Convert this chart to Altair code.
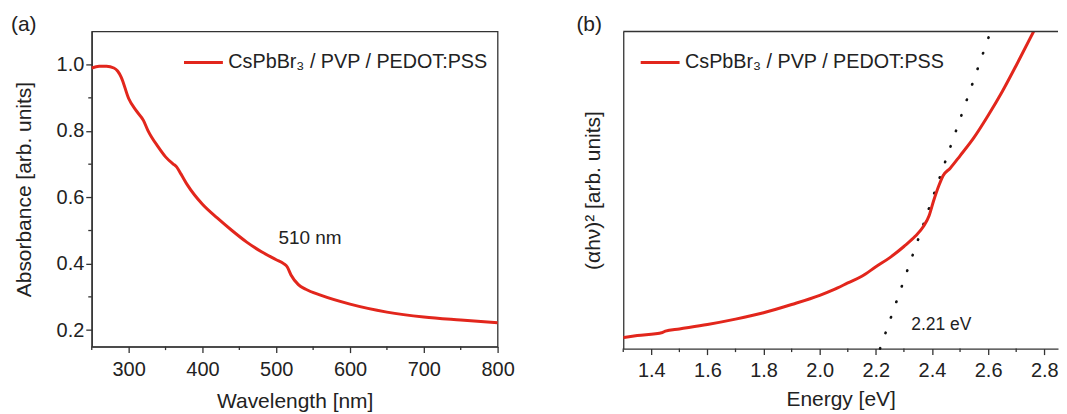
import altair as alt
import pandas as pd

# ---------------- data ----------------
wavelength = [250, 260, 270, 280, 285, 290, 300, 310, 320, 326, 340,
              350, 360, 365, 371, 380, 400, 420, 440, 460, 480, 500, 510, 515, 520,
              530, 540, 560, 600, 650, 700, 750, 800]
absorbance = [0.990, 0.995, 0.995, 0.990, 0.981, 0.962, 0.898,
              0.862, 0.832, 0.802, 0.752, 0.722, 0.701, 0.692, 0.670, 0.636, 0.579,
              0.538, 0.500, 0.465, 0.436, 0.412, 0.400, 0.390, 0.366, 0.337, 0.323,
              0.305, 0.278, 0.254, 0.239, 0.230, 0.222]

energy = [1.30, 1.35, 1.44, 1.45, 1.50, 1.60, 1.70, 1.80, 1.90, 2.00, 2.05, 2.10, 2.15,
          2.20, 2.25, 2.30, 2.34, 2.37, 2.39, 2.405, 2.425, 2.44, 2.465, 2.50, 2.55,
          2.60, 2.65, 2.70, 2.765]
tauc = [0.035, 0.041, 0.051, 0.055, 0.062, 0.076, 0.093, 0.113, 0.139, 0.168, 0.186,
        0.207, 0.228, 0.258, 0.287, 0.322, 0.354, 0.386, 0.420, 0.464, 0.515, 0.546,
        0.569, 0.608, 0.666, 0.735, 0.810, 0.893, 1.005]

fit_energy = [2.215, 2.607]
fit_value = [0.0, 0.995]

wl_major = [300, 400, 500, 600, 700, 800]
wl_minor = [250, 350, 450, 550, 650, 750]
abs_major = [0.2, 0.4, 0.6, 0.8, 1.0]
abs_minor = [0.3, 0.5, 0.7, 0.9]
e_major = [1.4, 1.6, 1.8, 2.0, 2.2, 2.4, 2.6, 2.8]
e_minor = [1.3, 1.5, 1.7, 1.9, 2.1, 2.3, 2.5, 2.7]

series_label = "CsPbBr\u2083 / PVP / PEDOT:PSS"
panel_labels = ["(a)", "(b)"]
ann_a = {"x": [503], "y": [0.477], "t": ["510 nm"]}
ann_b = {"x": [2.326], "y": [0.075], "t": ["2.21 eV"]}

# ---------------- style ----------------
FONT = "Liberation Sans"
RED = "#e2261c"
AX = "#333333"
TXT = "#222222"
WA, HA = 407, 316
WB, HB = 436, 318
E_MAX = 2.849
MAJOR, MINOR = 6, 3.5

df_a = pd.DataFrame({"wl": wavelength, "a": absorbance, "s": series_label})
df_b = pd.DataFrame({"e": energy, "v": tauc, "s": series_label})
df_fit = pd.DataFrame({"e": fit_energy, "v": fit_value})

legend_common = dict(
    title=None, orient="none", symbolType="stroke", symbolSize=1521,
    symbolStrokeWidth=3, labelFontSize=19.8, labelFont=FONT, labelColor=TXT,
    labelLimit=500, padding=0, labelOffset=4,
)

axis_common = dict(
    domainColor=AX, domainWidth=1.3, tickColor=AX, tickWidth=1.3, tickSize=MAJOR,
    labelFont=FONT, labelFontSize=20, labelColor=TXT, grid=False,
    titleFont=FONT, titleFontSize=21, titleFontWeight="normal", titleColor=TXT,
    labelFlush=False,
)

# ---------------- panel a ----------------
xa = alt.X("wl:Q", scale=alt.Scale(domain=[250, 800], nice=False, zero=False),
           axis=alt.Axis(title="Wavelength [nm]", values=wl_major,
                         labelPadding=7, titlePadding=11, **axis_common))
ya = alt.Y("a:Q", scale=alt.Scale(domain=[0.15, 1.1], nice=False, zero=False),
           axis=alt.Axis(title="Absorbance [arb. units]", values=abs_major, format=".1f",
                         labelPadding=2, titlePadding=22, **axis_common))

line_a = alt.Chart(df_a).mark_line(strokeWidth=3, interpolate="monotone").encode(
    x=xa, y=ya,
    color=alt.Color("s:N", scale=alt.Scale(domain=[series_label], range=[RED]),
                    legend=alt.Legend(legendX=91, legendY=10, **legend_common)),
)
minor_xa = alt.Chart(pd.DataFrame({"wl": wl_minor})).mark_rule(color=AX, strokeWidth=1.3).encode(
    x="wl:Q", y=alt.value(HA), y2=alt.value(HA + MINOR)
)
minor_ya = alt.Chart(pd.DataFrame({"a": abs_minor})).mark_rule(color=AX, strokeWidth=1.3).encode(
    y="a:Q", x=alt.value(0), x2=alt.value(-MINOR)
)
text_a = alt.Chart(pd.DataFrame(ann_a)).mark_text(
    align="left", baseline="middle", fontSize=19, font=FONT, color=TXT
).encode(x="x:Q", y="y:Q", text="t:N")
lab_a = alt.Chart(pd.DataFrame({"t": [panel_labels[0]]})).mark_text(
    align="left", baseline="alphabetic", fontSize=21, font=FONT, color=TXT
).encode(x=alt.value(-81), y=alt.value(-1), text="t:N")

panel_a = alt.layer(line_a, minor_xa, minor_ya, text_a, lab_a).properties(
    width=WA, height=HA, view=alt.ViewBackground(stroke=AX, strokeWidth=1.3)
)

# ---------------- panel b ----------------
xb = alt.X("e:Q", scale=alt.Scale(domain=[1.3, E_MAX], nice=False, zero=False),
           axis=alt.Axis(title="Energy [eV]", values=e_major, format=".1f",
                         labelPadding=6, titlePadding=8, **axis_common))
yb = alt.Y("v:Q", scale=alt.Scale(domain=[0, 1], nice=False, zero=False),
           axis=alt.Axis(title="(\u03b1h\u03bd)\u00b2 [arb. units]", labels=False, ticks=False,
                         titlePadding=20, **axis_common))

line_b = alt.Chart(df_b).mark_line(strokeWidth=3, interpolate="monotone", clip=True).encode(
    x=xb, y=yb,
    color=alt.Color("s:N", scale=alt.Scale(domain=[series_label], range=[RED]),
                    legend=alt.Legend(legendX=16, legendY=10, **legend_common)),
)
minor_xb = alt.Chart(pd.DataFrame({"e": e_minor})).mark_rule(color=AX, strokeWidth=1.3).encode(
    x="e:Q", y=alt.value(HB), y2=alt.value(HB + MINOR)
)
fit_b = alt.Chart(df_fit).mark_line(
    color="#111111", strokeWidth=2.6, strokeDash=[0.5, 16], strokeCap="round"
).encode(x="e:Q", y="v:Q")
text_b = alt.Chart(pd.DataFrame(ann_b)).mark_text(
    align="left", baseline="middle", fontSize=17.5, font=FONT, color=TXT
).encode(x="x:Q", y="y:Q", text="t:N")
lab_b = alt.Chart(pd.DataFrame({"t": [panel_labels[1]]})).mark_text(
    align="left", baseline="alphabetic", fontSize=21, font=FONT, color=TXT
).encode(x=alt.value(-47), y=alt.value(-1), text="t:N")
top_b = alt.Chart(pd.DataFrame({"t": [0]})).mark_rule(color=AX, strokeWidth=1.3).encode(
    x=alt.value(0), x2=alt.value(WB), y=alt.value(0)
)

panel_b = alt.layer(fit_b, line_b, minor_xb, text_b, lab_b, top_b).properties(
    width=WB, height=HB, view=alt.ViewBackground(stroke=None)
)

chart = alt.hconcat(panel_a, panel_b, spacing=61).resolve_scale(color="independent").properties(
    padding={"left": 2, "top": 4, "right": 0, "bottom": 0}
).configure(background="white")

chart.save("out.html", embed_options={"renderer": "svg", "actions": False})
